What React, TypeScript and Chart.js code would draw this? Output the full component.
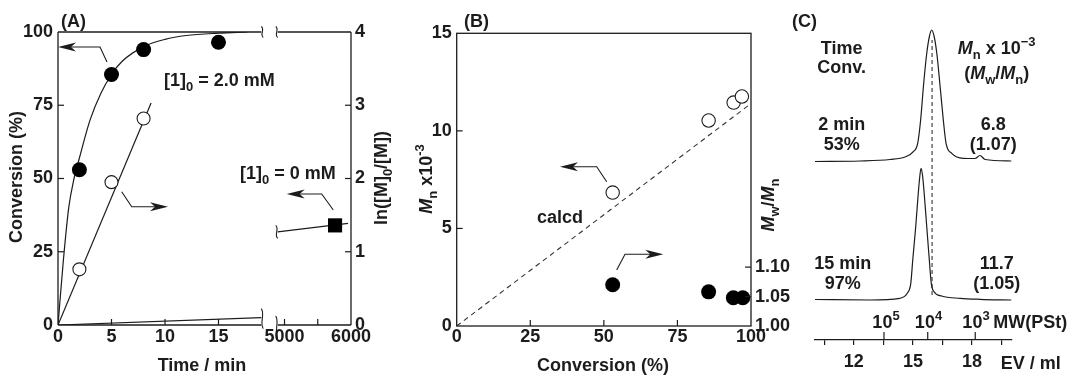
import React, { useEffect, useRef } from "react";
import { Chart, registerables } from "chart.js";

Chart.register(...registerables);

const FONT = '"Liberation Sans", Arial, Helvetica, sans-serif';
const INK = "#1c1c1c";
const TICK_FONT = { family: FONT, size: 18, weight: "bold" as const };

// ---------- Panel A : conversion / ln([M]0/[M]) vs time ----------
const aFilledTime = [2, 5, 8, 15];
const aFilledConv = [53, 85.5, 94, 96.5];
const aOpenTime = [2, 5, 8];
const aOpenLn = [0.76, 1.95, 2.82];
const aCurveTime = [0, 0.5, 1, 1.5, 2, 3, 4, 5, 6, 8, 10, 12, 15, 17.7];
const aCurveConv = [0, 22, 40, 50, 57, 70, 79, 85.5, 90, 95, 97.5, 98.8, 99.6, 100];
const aLnFitTime = [0, 8.7];
const aLnFitVal = [0, 3.03];
const aZeroTime1 = [0, 19];
const aZeroConv1 = [0, 2.5];
const aZeroTime2 = [4898, 5955];
const aZeroConv2 = [31.8, 34.7];
const aSquareTime = [5760];
const aSquareConv = [34];
const aTimeTicks = [0, 5, 10, 15, 5000, 5500, 6000];
const aTimeTickLabels = ["0", "5", "10", "15", "5000", "", "6000"];
const BREAK_END_MIN = 19;
const BREAK_RESUME_MIN = 4898;
// broken time axis: minutes shown 1:1, the long-time part compressed after the break
const toU = (t: number) => (t < 1000 ? t : 21.17 + (t - 5000) * 0.006215);

// ---------- Panel B : Mn and Mw/Mn vs conversion ----------
const bConv = [53, 85.6, 94.1, 96.9];
const bMn = [6.84, 10.53, 11.45, 11.76];
const bPdiConv = [53, 85.6, 94, 97.2];
const bPdi = [1.07, 1.058, 1.048, 1.048];
const bCalcdConv = [0, 100];
const bCalcdMn = [0, 11.4];
const bPdiTicks = [1.0, 1.05, 1.1];

// ---------- Panel C : SEC curves ----------
const cUpperEV = [10.03, 12.31, 13.84, 14.6, 15.02, 15.24, 15.39, 15.53, 15.7, 15.84, 15.95, 16.07, 16.21, 16.38, 16.54, 16.68, 16.97, 17.55, 18.15, 18.4, 18.66, 20.0];
const cUpperResp = [-0.5, 0, 1.5, 4, 9.3, 17.7, 41, 74.3, 107.7, 125, 131, 125, 107.7, 74.3, 41, 17.7, 7.7, 2.7, 2.5, 5.5, 1.5, 0];
const cLowerEV = [10.03, 12.82, 14.34, 14.71, 14.89, 14.99, 15.14, 15.27, 15.35, 15.41, 15.49, 15.57, 15.7, 15.83, 15.93, 16.07, 16.46, 17.39, 18.4, 20.0];
const cLowerResp = [0.5, 0, 1.7, 6.7, 16.7, 40, 73.3, 106.7, 124, 131.7, 124, 106.7, 73.3, 40, 16.7, 8.3, 4, 1.7, 0.7, 0];
const cUpperOffset = 179;
const cLowerOffset = 40;
const cPeakRefEV = [15.97, 15.97];
const cPeakRefY = [45, 300];
const cEVTicks = [10.5, 12, 13.5, 15, 16.5, 18, 19.5];
const cEVLabeled = [12, 15, 18];
const cMWTickEV = [13.53, 15.75, 18.16];
const cMWLabels = ["5", "4", "3"];

const pts = (xs: number[], ys: number[], fx = (v: number) => v, off = 0) =>
  xs.map((x, i) => ({ x: fx(x), y: ys[i] + off }));

type Seg = { t: string; s?: "sub" | "sup"; i?: boolean };

function segFont(seg: Seg, size: number) {
  const sz = seg.s ? Math.round(size * 0.72) : size;
  return `${seg.i ? "italic " : ""}bold ${sz}px ${FONT}`;
}

function drawRich(ctx: CanvasRenderingContext2D, segs: Seg[], x: number, y: number, align: "left" | "center", rot = 0, size = 18) {
  ctx.save();
  ctx.translate(x, y);
  if (rot) ctx.rotate(rot);
  let w = 0;
  for (const s of segs) {
    ctx.font = segFont(s, size);
    w += ctx.measureText(s.t).width;
  }
  let cx = align === "center" ? -w / 2 : 0;
  ctx.textBaseline = "middle";
  ctx.textAlign = "left";
  ctx.fillStyle = INK;
  for (const s of segs) {
    ctx.font = segFont(s, size);
    const dy = (s.s === "sub" ? size * 0.32 : s.s === "sup" ? -size * 0.4 : 0) + 1.5;
    ctx.fillText(s.t, cx, dy);
    cx += ctx.measureText(s.t).width;
  }
  ctx.restore();
}

function line(ctx: CanvasRenderingContext2D, x1: number, y1: number, x2: number, y2: number) {
  ctx.beginPath();
  ctx.moveTo(x1, y1);
  ctx.lineTo(x2, y2);
  ctx.stroke();
}

function squiggle(ctx: CanvasRenderingContext2D, x: number, yc: number, h: number) {
  const w = 3;
  ctx.beginPath();
  ctx.moveTo(x - 1, yc - h / 2);
  ctx.bezierCurveTo(x + w, yc - h / 4, x - w, yc + h / 4, x + 1, yc + h / 2);
  ctx.stroke();
}

function arrow(ctx: CanvasRenderingContext2D, p: number[][]) {
  const [x1, y1] = p[p.length - 2];
  const [x2, y2] = p[p.length - 1];
  const a = Math.atan2(y2 - y1, x2 - x1);
  const L = 18, W = 4.5;
  ctx.beginPath();
  ctx.moveTo(p[0][0], p[0][1]);
  for (let i = 1; i < p.length - 1; i++) ctx.lineTo(p[i][0], p[i][1]);
  ctx.lineTo(x2 - Math.cos(a) * L * 0.6, y2 - Math.sin(a) * L * 0.6);
  ctx.stroke();
  ctx.save();
  ctx.translate(x2, y2);
  ctx.rotate(a);
  ctx.beginPath();
  ctx.moveTo(0, 0);
  ctx.lineTo(-L, -W);
  ctx.lineTo(-L * 0.72, 0);
  ctx.lineTo(-L, W);
  ctx.closePath();
  ctx.fill();
  ctx.restore();
}

const baseOpts = {
  responsive: false,
  animation: false as const,
  devicePixelRatio: 1,
  events: [] as any[],
  plugins: { legend: { display: false }, tooltip: { enabled: false } },
};

const hide = { grid: { display: false, drawTicks: false }, border: { display: false } };

function makeA(canvas: HTMLCanvasElement) {
  const plugin = {
    id: "panelA",
    afterDraw(chart: any) {
      const { ctx, chartArea: ca, scales } = chart;
      const x = scales.x, y = scales.y, y2 = scales.y2;
      const L = ca.left, R = ca.right, T = ca.top, B = ca.bottom;
      const bx1 = x.getPixelForValue(toU(BREAK_END_MIN));
      const bx2 = x.getPixelForValue(toU(BREAK_RESUME_MIN));
      ctx.save();
      ctx.strokeStyle = INK;
      ctx.fillStyle = INK;
      ctx.lineWidth = 1.3;
      line(ctx, L, T, L, B);
      line(ctx, R, T, R, B);
      line(ctx, L, T, bx1, T);
      line(ctx, bx2, T, R, T);
      line(ctx, L, B, bx1, B);
      line(ctx, bx2, B, R, B);
      ctx.lineWidth = 1.1;
      squiggle(ctx, bx1 + 1, T, 11);
      squiggle(ctx, bx2 - 1, T, 11);
      const yz1 = y.getPixelForValue(aZeroConv1[1]);
      squiggle(ctx, bx1 + 1, yz1 + 1, 20);
      squiggle(ctx, bx2 - 1, B + 2, 22);
      const yz2 = y.getPixelForValue(aZeroConv2[0]);
      squiggle(ctx, bx2 - 1, yz2, 13);
      ctx.lineWidth = 1.2;
      // inner ticks
      [25, 50, 75].forEach((v) => line(ctx, L, y.getPixelForValue(v), L + 6, y.getPixelForValue(v)));
      [1, 2, 3].forEach((v) => line(ctx, R, y2.getPixelForValue(v), R - 6, y2.getPixelForValue(v)));
      aTimeTicks.slice(1, -1).forEach((t) => {
        const px = x.getPixelForValue(toU(t));
        line(ctx, px, B, px, B - 6);
      });
      // arrows
      ctx.lineWidth = 1.1;
      arrow(ctx, [[107, 62], [100, 47], [58, 47]]);
      arrow(ctx, [[121.7, 191.7], [131.7, 206.7], [168, 206.7]]);
      arrow(ctx, [[333.3, 210], [321.7, 194], [286.7, 194]]);
      ctx.restore();
      // texts
      drawRich(ctx, [{ t: "(A)" }], 61, 21, "left");
      drawRich(ctx, [{ t: "[1]" }, { t: "0", s: "sub" }, { t: " = 2.0 mM" }], 164, 80, "left");
      drawRich(ctx, [{ t: "[1]" }, { t: "0", s: "sub" }, { t: " = 0 mM" }], 240, 173, "left");
      drawRich(ctx, [{ t: "Conversion (%)" }], 16, 177, "center", -Math.PI / 2);
      drawRich(ctx, [{ t: "ln([M]" }, { t: "0", s: "sub" }, { t: "/[M])" }], 381, 178, "center", -Math.PI / 2);
      drawRich(ctx, [{ t: "Time / min" }], 202, 365, "center");
    },
  };
  return new Chart(canvas, {
    type: "scatter",
    data: {
      datasets: [
        { data: pts(aFilledTime, aFilledConv, toU), yAxisID: "y", pointRadius: 7.5, pointBackgroundColor: "#000", pointBorderColor: "#000", pointBorderWidth: 0, showLine: false, order: 0 },
        { data: pts(aOpenTime, aOpenLn, toU), yAxisID: "y2", pointRadius: 6.5, pointBackgroundColor: "#fff", pointBorderColor: INK, pointBorderWidth: 1.1, showLine: false, order: 1 },
        { data: pts(aSquareTime, aSquareConv, toU), yAxisID: "y", pointStyle: "rect", pointRadius: 10, pointBackgroundColor: "#000", pointBorderColor: "#000", pointBorderWidth: 0, showLine: false, order: 2 },
        { data: pts(aCurveTime, aCurveConv, toU), yAxisID: "y", showLine: true, pointRadius: 0, borderColor: INK, borderWidth: 1.2, cubicInterpolationMode: "monotone", order: 5 },
        { data: pts(aLnFitTime, aLnFitVal, toU), yAxisID: "y2", showLine: true, pointRadius: 0, borderColor: INK, borderWidth: 1.2, order: 6 },
        { data: pts(aZeroTime1, aZeroConv1, toU), yAxisID: "y", showLine: true, pointRadius: 0, borderColor: INK, borderWidth: 1.2, order: 7 },
        { data: pts(aZeroTime2, aZeroConv2, toU), yAxisID: "y", showLine: true, pointRadius: 0, borderColor: INK, borderWidth: 1.2, order: 8 },
      ],
    },
    options: {
      ...baseOpts,
      layout: { padding: { left: 0, top: 32, right: 689, bottom: 33 } },
      scales: {
        x: {
          type: "linear", min: 0, max: toU(6000), ...hide,
          afterBuildTicks: (s: any) => { s.ticks = aTimeTicks.map((t) => ({ value: toU(t) })); },
          afterFit: (s: any) => { s.height = 30; },
          ticks: { autoSkip: false, maxRotation: 0, padding: 1, color: INK, font: TICK_FONT, callback: (_v: any, i: number) => aTimeTickLabels[i] },
        },
        y: {
          type: "linear", position: "left", min: 0, max: 100, ...hide,
          afterFit: (s: any) => { s.width = 58; },
          ticks: { stepSize: 25, padding: 5, color: INK, font: TICK_FONT, autoSkip: false },
        },
        y2: {
          type: "linear", position: "right", min: 0, max: 4, ...hide,
          afterFit: (s: any) => { s.width = 40; },
          ticks: { stepSize: 1, padding: 4, color: INK, font: TICK_FONT, autoSkip: false },
        },
      },
    } as any,
    plugins: [plugin],
  });
}

function makeB(canvas: HTMLCanvasElement) {
  const plugin = {
    id: "panelB",
    afterDraw(chart: any) {
      const { ctx, chartArea: ca, scales } = chart;
      const x = scales.x, y = scales.y, y2 = scales.y2;
      const L = ca.left, R = ca.right, T = ca.top, B = ca.bottom;
      ctx.save();
      ctx.strokeStyle = INK;
      ctx.fillStyle = INK;
      ctx.lineWidth = 1.3;
      ctx.strokeRect(L, T, R - L, B - T);
      ctx.lineWidth = 1.2;
      [25, 50, 75].forEach((v) => line(ctx, x.getPixelForValue(v), B, x.getPixelForValue(v), B - 6));
      [5, 10].forEach((v) => line(ctx, L, y.getPixelForValue(v), L + 6, y.getPixelForValue(v)));
      [1.05, 1.1].forEach((v) => line(ctx, R, y2.getPixelForValue(v), R - 6, y2.getPixelForValue(v)));
      ctx.lineWidth = 1.1;
      arrow(ctx, [[606.7, 181.7], [596.7, 166.7], [560, 166.7]]);
      arrow(ctx, [[616.7, 270], [625, 254.3], [663.3, 254.3]]);
      ctx.restore();
      drawRich(ctx, [{ t: "(B)" }], 464, 21, "left");
      drawRich(ctx, [{ t: "calcd" }], 560, 217, "center");
      drawRich(ctx, [{ t: "M", i: true }, { t: "n", s: "sub" }, { t: " x10" }, { t: "-3", s: "sup" }], 426, 179, "center", -Math.PI / 2);
      drawRich(ctx, [{ t: "M", i: true }, { t: "w", s: "sub" }, { t: "/" }, { t: "M", i: true }, { t: "n", s: "sub" }], 768, 205, "center", -Math.PI / 2);
      drawRich(ctx, [{ t: "Conversion (%)" }], 603, 365, "center");
    },
  };
  return new Chart(canvas, {
    type: "scatter",
    data: {
      datasets: [
        { data: pts(bConv, bMn), yAxisID: "y", pointRadius: 6.7, pointBackgroundColor: "#fff", pointBorderColor: INK, pointBorderWidth: 1.1, showLine: false, order: 0 },
        { data: pts(bPdiConv, bPdi), yAxisID: "y2", pointRadius: 7.5, pointBackgroundColor: "#000", pointBorderColor: "#000", pointBorderWidth: 0, showLine: false, order: 1 },
        { data: pts(bCalcdConv, bCalcdMn), yAxisID: "y", showLine: true, pointRadius: 0, borderColor: "#333", borderWidth: 1.1, borderDash: [5, 4], order: 5 },
      ],
    },
    options: {
      ...baseOpts,
      layout: { padding: { left: 416.7, top: 33.3, right: 284, bottom: 32 } },
      scales: {
        x: {
          type: "linear", min: 0, max: 100, ...hide,
          afterFit: (s: any) => { s.height = 30; },
          ticks: { stepSize: 25, autoSkip: false, maxRotation: 0, padding: 0, color: INK, font: TICK_FONT },
        },
        y: {
          type: "linear", position: "left", min: 0, max: 15, ...hide,
          afterFit: (s: any) => { s.width = 40; },
          ticks: { stepSize: 5, padding: 5, color: INK, font: TICK_FONT, autoSkip: false },
        },
        y2: {
          type: "linear", position: "right", min: 1.0, max: 1.497, ...hide,
          afterFit: (s: any) => { s.width = 45; },
          afterBuildTicks: (s: any) => { s.ticks = bPdiTicks.map((v) => ({ value: v })); },
          ticks: { padding: 4, color: INK, font: TICK_FONT, autoSkip: false, callback: (v: any) => Number(v).toFixed(2) },
        },
      },
    } as any,
    plugins: [plugin],
  });
}

function makeC(canvas: HTMLCanvasElement) {
  const plugin = {
    id: "panelC",
    afterDraw(chart: any) {
      const { ctx, chartArea: ca, scales } = chart;
      const x = scales.x;
      const B = ca.bottom;
      ctx.save();
      ctx.strokeStyle = INK;
      ctx.lineWidth = 1.2;
      cMWTickEV.forEach((v) => line(ctx, x.getPixelForValue(v), B, x.getPixelForValue(v), B - 8));
      ctx.restore();
      drawRich(ctx, [{ t: "(C)" }], 792, 21, "left");
      drawRich(ctx, [{ t: "Time" }], 841.7, 48, "center");
      drawRich(ctx, [{ t: "Conv." }], 841.7, 67, "center");
      drawRich(ctx, [{ t: "M", i: true }, { t: "n", s: "sub" }, { t: " x 10" }, { t: "\u22123", s: "sup" }], 996.7, 48, "center");
      drawRich(ctx, [{ t: "(" }, { t: "M", i: true }, { t: "w", s: "sub" }, { t: "/" }, { t: "M", i: true }, { t: "n", s: "sub" }, { t: ")" }], 996.7, 73, "center");
      drawRich(ctx, [{ t: "2 min" }], 841.7, 124, "center");
      drawRich(ctx, [{ t: "53%" }], 841.7, 144, "center");
      drawRich(ctx, [{ t: "6.8" }], 993.3, 124, "center");
      drawRich(ctx, [{ t: "(1.07)" }], 993.3, 144, "center");
      drawRich(ctx, [{ t: "15 min" }], 842.7, 263, "center");
      drawRich(ctx, [{ t: "97%" }], 842.7, 283, "center");
      drawRich(ctx, [{ t: "11.7" }], 996.7, 263, "center");
      drawRich(ctx, [{ t: "(1.05)" }], 996.7, 283, "center");
      const mwCenters = [886, 928.5, 976];
      cMWLabels.forEach((e, i) => drawRich(ctx, [{ t: "10" }, { t: e, s: "sup" }], mwCenters[i], 322, "center"));
      drawRich(ctx, [{ t: "MW(PSt)" }], 993.3, 322, "left");
      drawRich(ctx, [{ t: "EV / ml" }], 1000.7, 363, "left");
    },
  };
  return new Chart(canvas, {
    type: "scatter",
    data: {
      datasets: [
        { data: pts(cUpperEV, cUpperResp, (v) => v, cUpperOffset), showLine: true, pointRadius: 0, borderColor: INK, borderWidth: 1.2, cubicInterpolationMode: "monotone" },
        { data: pts(cLowerEV, cLowerResp, (v) => v, cLowerOffset), showLine: true, pointRadius: 0, borderColor: INK, borderWidth: 1.2, cubicInterpolationMode: "monotone" },
        { data: pts(cPeakRefEV, cPeakRefY), showLine: true, pointRadius: 0, borderColor: "#333", borderWidth: 1.1, borderDash: [4, 3] },
      ],
    },
    options: {
      ...baseOpts,
      layout: { padding: { left: 814.4, top: 20, right: 68.5, bottom: 18 } },
      scales: {
        x: {
          type: "linear", min: 10, max: 20,
          grid: { display: true, drawOnChartArea: false, drawTicks: true, tickLength: 5, color: INK, lineWidth: 1.2 },
          border: { display: true, color: INK, width: 1.3 },
          afterBuildTicks: (s: any) => { s.ticks = cEVTicks.map((v) => ({ value: v })); },
          afterFit: (s: any) => { s.height = 30; },
          ticks: { autoSkip: false, maxRotation: 0, padding: 6, color: INK, font: TICK_FONT, callback: (v: any) => (cEVLabeled.includes(Number(v)) ? String(v) : "") },
        },
        y: { type: "linear", display: false, min: 0, max: 320 },
      },
    } as any,
    plugins: [plugin],
  });
}

export default function App() {
  const refA = useRef<HTMLCanvasElement>(null);
  const refB = useRef<HTMLCanvasElement>(null);
  const refC = useRef<HTMLCanvasElement>(null);
  useEffect(() => {
    const charts = [makeA(refA.current!), makeB(refB.current!), makeC(refC.current!)];
    return () => charts.forEach((c) => c.destroy());
  }, []);
  const cs: React.CSSProperties = { position: "absolute", left: 0, top: 0, display: "block" };
  return (
    <div style={{ position: "fixed", left: 0, top: 0, width: 1080, height: 388, background: "#fff" }}>
      <canvas ref={refA} width={1080} height={388} style={cs} />
      <canvas ref={refB} width={1080} height={388} style={cs} />
      <canvas ref={refC} width={1080} height={388} style={cs} />
    </div>
  );
}
